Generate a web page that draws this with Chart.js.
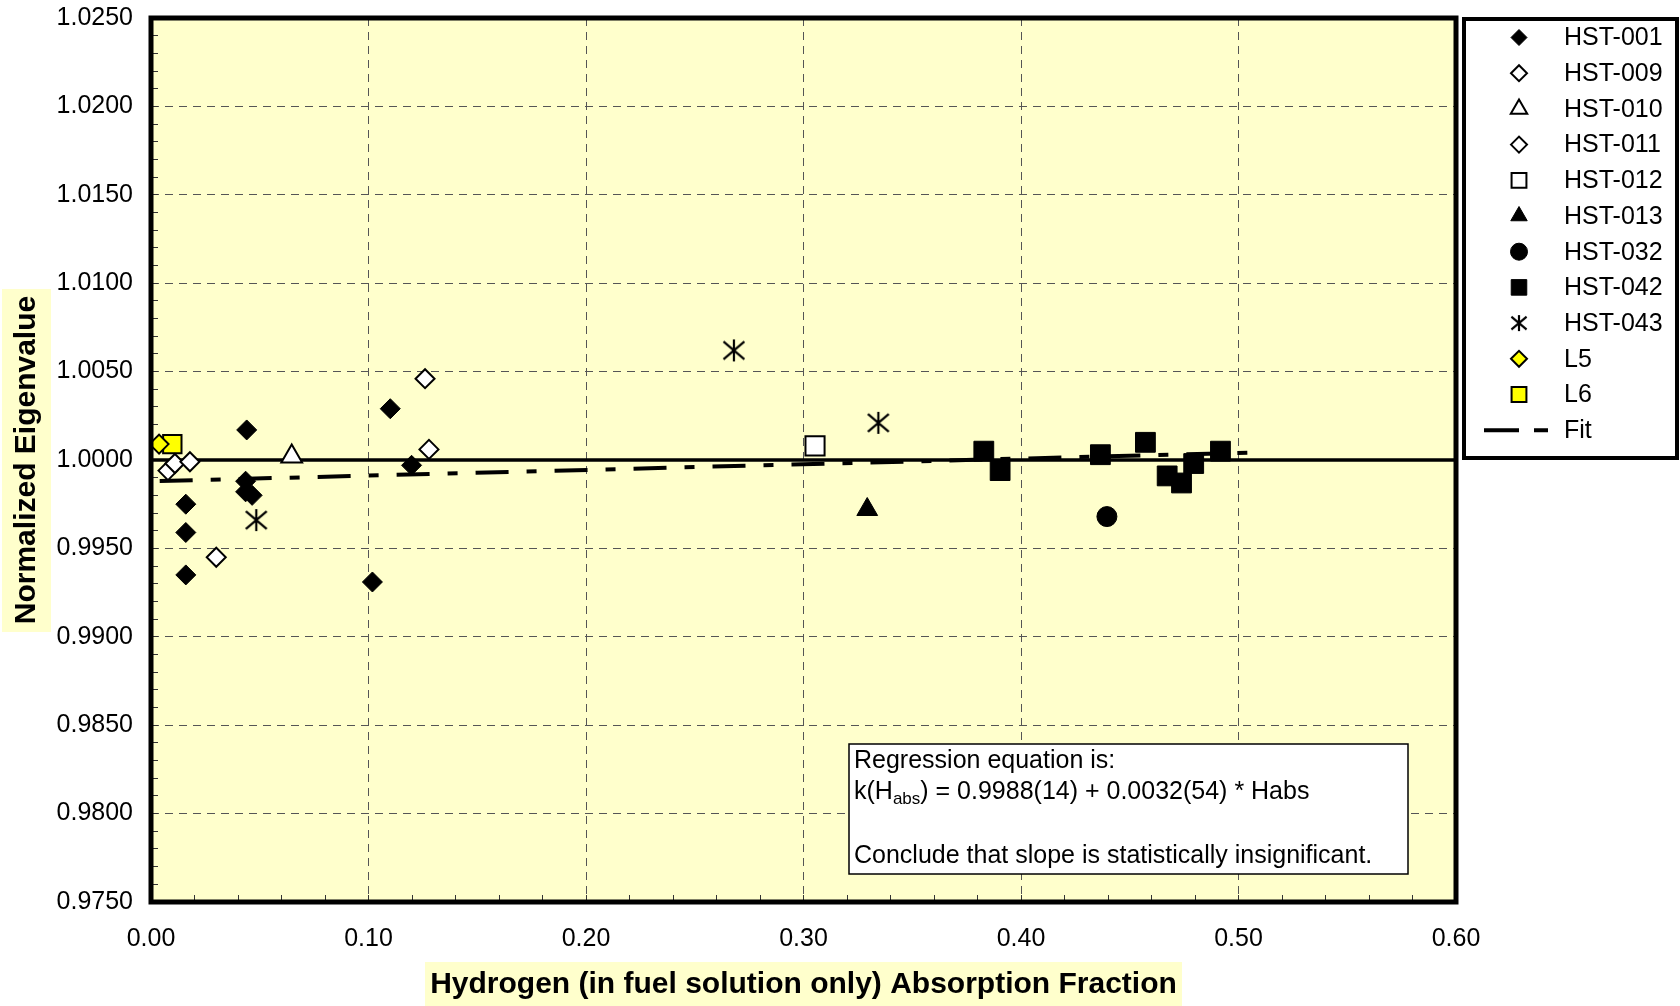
<!DOCTYPE html>
<html>
<head>
<meta charset="utf-8">
<script src="https://cdn.jsdelivr.net/npm/chart.js@4/dist/chart.umd.min.js"></script>
<style>
html,body{margin:0;padding:0;background:#fff;}
#wrap{position:relative;width:1680px;height:1006px;}
canvas{display:block;}
</style>
</head>
<body>
<div id="wrap"><canvas id="c" width="1680" height="1006"></canvas></div>
<script>
// ---------- data ----------
const seriesNames = ['HST-001','HST-009','HST-010','HST-011','HST-012','HST-013','HST-032','HST-042','HST-043','L5','L6','Fit'];

const hst001X = [0.044, 0.016, 0.016, 0.016, 0.0435, 0.0435, 0.0465, 0.110, 0.1198, 0.1018];
const hst001Y = [1.0017, 0.9975, 0.9959, 0.9935, 0.9988, 0.9982, 0.9980, 1.0029, 0.9997, 0.9931];
const hst009X = [0.0078, 0.011, 0.0179, 0.030];
const hst009Y = [0.9994, 0.9998, 0.9999, 0.9945];
const hst010X = [0.0647];
const hst010Y = [1.0002];
const hst011X = [0.126, 0.1278];
const hst011Y = [1.0046, 1.0006];
const hst012X = [0.3053];
const hst012Y = [1.0008];
const hst013X = [0.3293];
const hst013Y = [0.9972];
const hst032X = [0.4395];
const hst032Y = [0.9968];
const hst042X = [0.3829, 0.3904, 0.4365, 0.4572, 0.4672, 0.4738, 0.4794, 0.4917];
const hst042Y = [1.0005, 0.9994, 1.0003, 1.0010, 0.9991, 0.9987, 0.9998, 1.0005];
const hst043X = [0.0484, 0.268, 0.3344];
const hst043Y = [0.9966, 1.0062, 1.0021];
const l5X = [0.0037];
const l5Y = [1.0009];
const l6X = [0.0098];
const l6Y = [1.0009];
const fitX = [0.004, 0.509];
const fitY = [0.99881, 1.00043];
const refX = [0.0, 0.6];
const refY = [1.0, 1.0];

const xTickLabels = ['0.00','0.10','0.20','0.30','0.40','0.50','0.60'];
const yTickLabels = ['0.9750','0.9800','0.9850','0.9900','0.9950','1.0000','1.0050','1.0100','1.0150','1.0200','1.0250'];

const xTitle = 'Hydrogen (in fuel solution only) Absorption Fraction';
const yTitle = 'Normalized Eigenvalue';
const regLines = ['Regression equation is:', 'k(H', 'abs', ') = 0.9988(14) + 0.0032(54) * Habs', 'Conclude that slope is statistically insignificant.'];

// ---------- helpers ----------
const FONT = '"Liberation Sans", Arial, Helvetica, sans-serif';
Chart.defaults.font.family = FONT;
Chart.defaults.color = '#000';

function pts(xs, ys) { return xs.map((x, i) => ({x: x, y: ys[i]})); }

function makeAsterisk(size, lw) {
  const c = document.createElement('canvas');
  c.width = size + 2; c.height = size + 2;
  const g = c.getContext('2d');
  const mid = (size + 2) / 2, h = size / 2;
  g.strokeStyle = '#000'; g.lineWidth = lw; g.lineCap = 'butt';
  g.beginPath();
  g.moveTo(mid - h * 0.95, mid - h * 0.8); g.lineTo(mid + h * 0.95, mid + h * 0.8);
  g.moveTo(mid + h * 0.95, mid - h * 0.8); g.lineTo(mid - h * 0.95, mid + h * 0.8);
  g.moveTo(mid, mid - h); g.lineTo(mid, mid + h);
  g.stroke();
  return c;
}
const astBig = makeAsterisk(22, 2.2);
const astSmall = makeAsterisk(16, 2.2);

function scatterSet(label, xs, ys, style, radius, bg, bw, legendRadius, legendStyle) {
  return {
    label: label, data: pts(xs, ys), pointStyle: style, pointRadius: radius,
    pointBackgroundColor: bg, pointBorderColor: '#000', pointBorderWidth: bw,
    backgroundColor: bg, borderColor: '#000', showLine: false, order: 0,
    legendRadius: legendRadius, legendStyle: legendStyle || style
  };
}

const datasets = [
  scatterSet('HST-001', hst001X, hst001Y, 'rectRot', 10, '#000000', 1, 8),
  scatterSet('HST-009', hst009X, hst009Y, 'rectRot', 9.5, '#ffffff', 2, 8),
  scatterSet('HST-010', hst010X, hst010Y, 'triangle', 12, '#ffffff', 2, 9.5),
  scatterSet('HST-011', hst011X, hst011Y, 'rectRot', 9.5, '#ffffff', 2, 8),
  scatterSet('HST-012', hst012X, hst012Y, 'rect', 13.5, '#ffffff', 2, 10.5),
  scatterSet('HST-013', hst013X, hst013Y, 'triangle', 12, '#000000', 1, 9.5),
  scatterSet('HST-032', hst032X, hst032Y, 'circle', 10, '#000000', 1, 8.5),
  scatterSet('HST-042', hst042X, hst042Y, 'rect', 14, '#000000', 1, 11),
  scatterSet('HST-043', hst043X, hst043Y, astBig, 11, '#000000', 0, 8, astSmall),
  scatterSet('L5', l5X, l5Y, 'rectRot', 9.5, '#ffff00', 2, 8),
  scatterSet('L6', l6X, l6Y, 'rect', 13, '#ffff00', 2, 10.5),
  {
    label: 'Fit', data: pts(fitX, fitY), showLine: true, pointRadius: 0,
    borderColor: '#000', borderWidth: 4, borderDash: [33, 18, 10, 18], order: 5, isFit: true
  },
  {
    label: 'ref', data: pts(refX, refY), showLine: true, pointRadius: 0,
    borderColor: '#000', borderWidth: 3.5, order: 6, noLegend: true
  }
];

// ---------- plugins ----------
const bgPlugin = {
  id: 'bgPlugin',
  beforeDraw(chart) {
    const {ctx, chartArea: a} = chart;
    ctx.save();
    ctx.fillStyle = '#ffffff';
    ctx.fillRect(0, 0, chart.width, chart.height);
    ctx.fillStyle = '#ffffcc';
    ctx.fillRect(a.left, a.top, a.right - a.left, a.bottom - a.top);
    // axis title backgrounds
    ctx.fillRect(2, 289, 49, 343);
    ctx.fillRect(425, 962, 757, 44);
    ctx.restore();
  },
  afterDatasetsDraw(chart) {
    const {ctx, chartArea: a} = chart;
    ctx.save();
    ctx.strokeStyle = '#000';
    ctx.lineWidth = 5;
    ctx.strokeRect(a.left, a.top, a.right - a.left, a.bottom - a.top);
    ctx.restore();
  }
};

const regPlugin = {
  id: 'regPlugin',
  afterDraw(chart) {
    const ctx = chart.ctx;
    ctx.save();
    ctx.fillStyle = '#fff';
    ctx.fillRect(849, 744, 559, 130);
    ctx.strokeStyle = '#000';
    ctx.lineWidth = 1.5;
    ctx.strokeRect(849, 744, 559, 130);
    ctx.fillStyle = '#000';
    ctx.textBaseline = 'middle';
    ctx.textAlign = 'left';
    ctx.font = '25px ' + FONT;
    const x0 = 854;
    ctx.fillText(regLines[0], x0, 761);
    ctx.fillText(regLines[1], x0, 792);
    let x = x0 + ctx.measureText(regLines[1]).width;
    ctx.font = '17px ' + FONT;
    ctx.fillText(regLines[2], x, 799);
    x += ctx.measureText(regLines[2]).width;
    ctx.font = '25px ' + FONT;
    ctx.fillText(regLines[3], x, 792);
    ctx.fillText(regLines[4], x0, 856);
    ctx.restore();
  }
};

const legendPlugin = {
  id: 'boxLegend',
  afterDraw(chart) {
    const ctx = chart.ctx;
    ctx.save();
    ctx.fillStyle = '#fff';
    ctx.fillRect(1464, 19, 214, 439);
    ctx.strokeStyle = '#000';
    ctx.lineWidth = 4;
    ctx.strokeRect(1464, 19, 213, 439);
    const items = chart.data.datasets.filter(d => !d.noLegend);
    const mx = 1519, tx = 1564, y0 = 37.5, dy = 35.7;
    items.forEach((d, i) => {
      const y = y0 + i * dy;
      if (d.isFit) {
        ctx.strokeStyle = '#000';
        ctx.lineWidth = 4;
        ctx.setLineDash([]);
        ctx.beginPath();
        ctx.moveTo(1484, y); ctx.lineTo(1519, y);
        ctx.moveTo(1534, y); ctx.lineTo(1548, y);
        ctx.stroke();
      } else {
        ctx.fillStyle = d.pointBackgroundColor;
        ctx.strokeStyle = '#000';
        ctx.lineWidth = d.pointBorderWidth;
        Chart.helpers.drawPoint(ctx, {
          pointStyle: d.legendStyle, radius: d.legendRadius, rotation: 0, borderWidth: d.pointBorderWidth
        }, mx, y);
      }
      ctx.fillStyle = '#000';
      ctx.font = '25px ' + FONT;
      ctx.textBaseline = 'middle';
      ctx.textAlign = 'left';
      ctx.fillText(d.label, tx, y + 1);
    });
    ctx.restore();
  }
};

// ---------- chart ----------
new Chart(document.getElementById('c'), {
  type: 'scatter',
  data: { datasets: datasets },
  plugins: [bgPlugin, regPlugin, legendPlugin],
  options: {
    responsive: false,
    animation: false,
    events: [],
    layout: { padding: { top: 18, right: 224, bottom: 0, left: 0 } },
    plugins: { legend: { display: false }, tooltip: { enabled: false } },
    scales: {
      x: {
        type: 'linear', min: 0, max: 0.6,
        afterFit: s => { s.height = 104; s.paddingLeft = 0; s.paddingRight = 0; },
        afterBuildTicks: s => {
          const t = [];
          for (let i = 0; i <= 30; i++) t.push({ value: i / 50 });
          s.ticks = t;
        },
        ticks: {
          autoSkip: false, maxRotation: 0, minRotation: 0, padding: 29,
          font: { size: 25 }, color: '#000',
          callback: (v, i) => (i % 5 === 0 ? xTickLabels[i / 5] : '')
        },
        grid: {
          drawTicks: true, tickLength: -7, lineWidth: 1,
          color: c => (c.index % 5 === 0 ? '#555555' : 'rgba(0,0,0,0)'),
          tickColor: '#333', tickWidth: 1, tickBorderDash: []
        },
        border: { display: false, dash: [8, 6] },
        title: {
          display: true, text: xTitle, color: '#000',
          font: { size: 30, weight: 'bold' }, padding: { top: 0, bottom: 3 }
        }
      },
      y: {
        type: 'linear', min: 0.975, max: 1.025,
        afterFit: s => { s.width = 151; s.paddingTop = 0; s.paddingBottom = 0; },
        afterBuildTicks: s => {
          const t = [];
          for (let i = 0; i <= 50; i++) t.push({ value: (975 + i) / 1000 });
          s.ticks = t;
        },
        ticks: {
          autoSkip: false, padding: 25, font: { size: 25 }, color: '#000',
          callback: (v, i) => (i % 5 === 0 ? yTickLabels[i / 5] : '')
        },
        grid: {
          drawTicks: true, tickLength: -7, lineWidth: 1,
          color: c => (c.index % 5 === 0 ? '#555555' : 'rgba(0,0,0,0)'),
          tickColor: '#333', tickWidth: 1, tickBorderDash: []
        },
        border: { display: false, dash: [8, 6] },
        title: {
          display: true, text: yTitle, color: '#000',
          font: { size: 30, weight: 'bold' }, padding: { top: 9, bottom: 0 }
        }
      }
    }
  }
});
</script>
</body>
</html>
